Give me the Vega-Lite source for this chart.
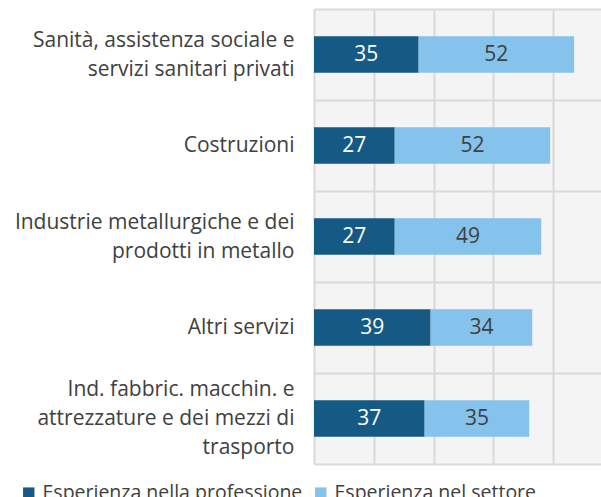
{
  "$schema": "https://vega.github.io/schema/vega-lite/v6.json",
  "width": 287,
  "height": 455,
  "padding": {"left": 0, "top": -2, "right": 0, "bottom": 0},
  "config": {"view": {"fill": "#f4f4f4", "stroke": null}, "font": "Open Sans"},
  "data": {"values": [
    {"settore": "Sanità, assistenza sociale e\nservizi sanitari privati", "serie": "Esperienza nella professione", "ord": 1, "value": 35},
    {"settore": "Sanità, assistenza sociale e\nservizi sanitari privati", "serie": "Esperienza nel settore", "ord": 2, "value": 52},
    {"settore": "Costruzioni", "serie": "Esperienza nella professione", "ord": 1, "value": 27},
    {"settore": "Costruzioni", "serie": "Esperienza nel settore", "ord": 2, "value": 52},
    {"settore": "Industrie metallurgiche e dei\nprodotti in metallo", "serie": "Esperienza nella professione", "ord": 1, "value": 27},
    {"settore": "Industrie metallurgiche e dei\nprodotti in metallo", "serie": "Esperienza nel settore", "ord": 2, "value": 49},
    {"settore": "Altri servizi", "serie": "Esperienza nella professione", "ord": 1, "value": 39},
    {"settore": "Altri servizi", "serie": "Esperienza nel settore", "ord": 2, "value": 34},
    {"settore": "Ind. fabbric. macchin. e\nattrezzature e dei mezzi di\ntrasporto", "serie": "Esperienza nella professione", "ord": 1, "value": 37},
    {"settore": "Ind. fabbric. macchin. e\nattrezzature e dei mezzi di\ntrasporto", "serie": "Esperienza nel settore", "ord": 2, "value": 35}
  ]},
  "transform": [
    {"stack": "value", "groupby": ["settore"], "sort": [{"field": "ord", "order": "ascending"}], "as": ["x0", "x1"]},
    {"calculate": "(datum.x0 + datum.x1) / 2", "as": "xmid"}
  ],
  "encoding": {
    "y": {
      "field": "settore", "type": "nominal", "sort": null,
      "scale": {"paddingInner": 0, "paddingOuter": 0},
      "axis": {
        "title": null, "ticks": false, "domain": false, "grid": true, "tickBand": "extent",
        "gridColor": "#d9d9d9", "gridWidth": 2,
        "labelFontSize": 21, "labelColor": "#404040", "labelPadding": 20, "labelLimit": 400,
        "labelLineHeight": 29, "minExtent": 314, "maxExtent": 314,
        "labelOffset": {"expr": "(length(split(datum.value, '\\n')) - 1) * -14.5"},
        "labelExpr": "split(datum.label, '\\n')"
      }
    }
  },
  "layer": [
    {
      "mark": {"type": "bar", "height": {"band": 0.4}},
      "encoding": {
        "x": {"field": "x0", "type": "quantitative", "scale": {"domain": [0, 96], "nice": false},
          "axis": {"values": [0, 20, 40, 60, 80], "labels": false, "ticks": false, "domain": false, "title": null,
            "grid": true, "gridColor": "#d9d9d9", "gridWidth": 2}},
        "x2": {"field": "x1"},
        "color": {
          "field": "serie", "type": "nominal",
          "scale": {"domain": ["Esperienza nella professione", "Esperienza nel settore"], "range": ["#155a84", "#85c3ec"]},
          "legend": {
            "orient": "none", "legendX": -295, "legendY": 474, "direction": "horizontal", "title": null,
            "symbolType": "square", "symbolSize": 130, "symbolStrokeWidth": 0, "labelLimit": 400,
            "labelFontSize": 19.5, "labelColor": "#404040", "columnPadding": 8, "labelOffset": 4
          }
        }
      }
    },
    {
      "mark": {"type": "text", "fontSize": 21, "align": "center", "baseline": "middle"},
      "encoding": {
        "x": {"field": "xmid", "type": "quantitative"},
        "text": {"field": "value", "type": "quantitative"},
        "color": {"condition": {"test": "datum.serie === 'Esperienza nella professione'", "value": "#ffffff"}, "value": "#404040"}
      }
    }
  ]
}
